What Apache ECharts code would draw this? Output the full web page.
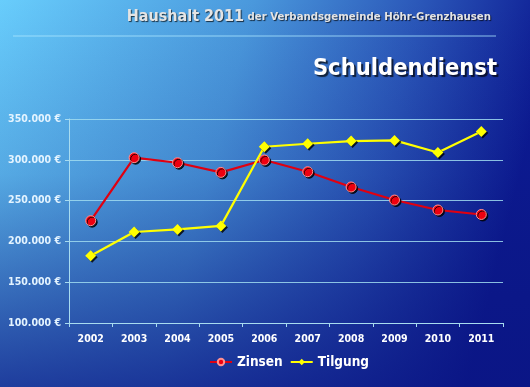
<!DOCTYPE html>
<html><head><meta charset="utf-8">
<script src="https://cdn.jsdelivr.net/npm/echarts@6/dist/echarts.min.js"></script>
<style>html,body{margin:0;padding:0;}#c{width:530px;height:387px;}</style>
</head><body><div id="c"></div>
<script>
const years = ['2002','2003','2004','2005','2006','2007','2008','2009','2010','2011'];
const zinsen = [225400, 302600, 296400, 284600, 299800, 285400, 266700, 250700, 238500, 233000];
const tilgung = [182500, 211500, 214700, 219000, 316000, 319700, 323000, 323800, 309000, 334800];
const seriesNames = ['Zinsen', 'Tilgung'];
const FONT = '"DejaVu Sans Condensed", "DejaVu Sans", sans-serif';

function fmt(v){ return String(v).replace(/\B(?=(\d{3})+(?!\d))/g, '.') + ' €'; }

const chart = echarts.init(document.getElementById('c'));
chart.setOption({
  animation: false,
  backgroundColor: {type:'linear', x:0, y:0, x2:1, y2:0.35, colorStops:[
    {offset:0, color:'#68cdfc'}, {offset:0.45, color:'#4a98dc'}, {offset:0.75, color:'#2a56b8'}, {offset:1, color:'#0c1a92'}]},
  graphic: [
    {type:'rect', z:-10, silent:true, shape:{x:0,y:0,width:530,height:387},
     style:{fill:{type:'linear', x:0,y:0,x2:0,y2:1, colorStops:[{offset:0,color:'rgba(10,20,120,0)'},{offset:0.45,color:'rgba(10,20,120,0.15)'},{offset:1,color:'rgba(10,20,130,0.75)'}]}}},
    {type:'line', silent:true, shape:{x1:13,y1:36,x2:496,y2:36}, style:{stroke:'rgba(170,230,255,0.8)', lineWidth:1}},
    {type:'text', right:39, top:9, style:{
      text:'{a|Haushalt 2011} {b|der Verbandsgemeinde Höhr-Grenzhausen}',
      rich:{
        a:{fontFamily:FONT, fontWeight:'bold', fontSize:16, fill:'#e4e4e4', textShadowColor:'rgba(0,0,0,0.7)', textShadowOffsetX:1, textShadowOffsetY:1, textShadowBlur:1},
        b:{fontFamily:FONT, fontWeight:'bold', fontSize:11.3, fill:'#e4e4e4', textShadowColor:'rgba(0,0,0,0.7)', textShadowOffsetX:1, textShadowOffsetY:1, textShadowBlur:1}
      }}},
    {type:'text', right:33, top:57, style:{text:'Schuldendienst', fontFamily:FONT, fontWeight:'bold', fontSize:23.5, fill:'#ffffff',
      textShadowColor:'rgba(0,0,0,0.7)', textShadowOffsetX:2, textShadowOffsetY:2, textShadowBlur:1}}
  ],
  grid: {left:69, right:27, top:119, bottom:64},
  legend: {bottom:13, left:204, itemWidth:22, itemHeight:8, itemGap:7,
    textStyle:{color:'#ffffff', fontFamily:FONT, fontWeight:'bold', fontSize:13.5},
    data: seriesNames},
  xAxis: {type:'category', data: years, boundaryGap:true,
    axisLine:{lineStyle:{color:'#a8dcf0', width:1}},
    axisTick:{show:true, length:4, lineStyle:{color:'#a8dcf0'}},
    axisLabel:{color:'#ffffff', fontFamily:FONT, fontWeight:'bold', fontSize:10.5, margin:11}},
  yAxis: {type:'value', min:100000, max:350000, interval:50000,
    axisLine:{show:true, lineStyle:{color:'#a8dcf0', width:1}},
    axisTick:{show:true, length:4, lineStyle:{color:'#a8dcf0'}},
    splitLine:{lineStyle:{color:'rgba(160,220,240,0.85)', width:1}},
    axisLabel:{color:'#e4f4ff', fontFamily:FONT, fontWeight:'bold', fontSize:10.5, margin:8, formatter: fmt}},
  series: [
    {name: seriesNames[0], type:'line', data: zinsen, symbol:'circle', symbolSize:10,
     lineStyle:{color:'#e00010', width:2.2},
     itemStyle:{color:'#ee0010', borderColor:'#ff9090', borderWidth:1, shadowColor:'rgba(0,0,0,0.8)', shadowOffsetX:1.5, shadowOffsetY:1.5}},
    {name: seriesNames[1], type:'line', data: tilgung, symbol:'diamond', symbolSize:11,
     lineStyle:{color:'#ffff00', width:2.2},
     itemStyle:{color:'#ffff00', shadowColor:'rgba(0,0,0,0.8)', shadowOffsetX:1.5, shadowOffsetY:1.5}}
  ]
});
</script></body></html>
